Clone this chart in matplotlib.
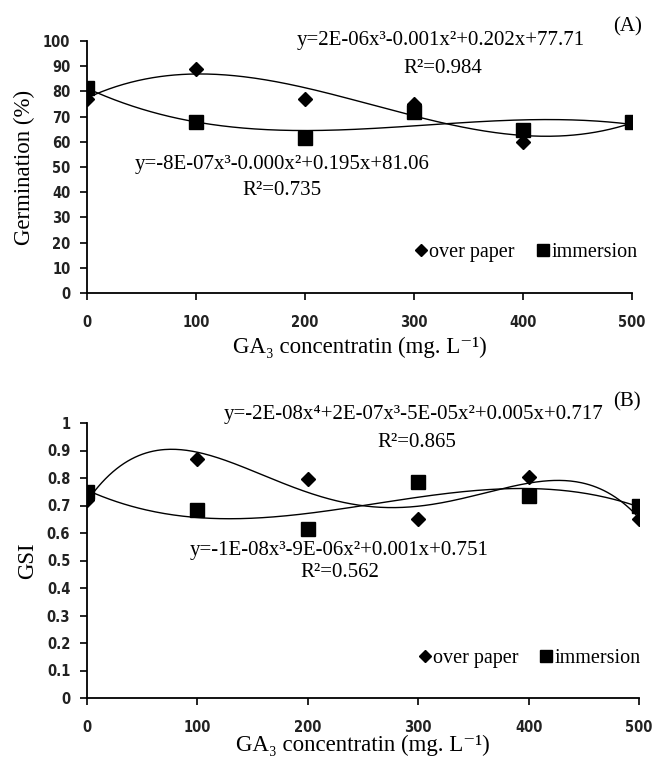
import numpy as np
import matplotlib
matplotlib.use('Agg')
import matplotlib.pyplot as plt
from matplotlib.lines import Line2D

# GA3 concentrations (mg/L)
conc = [0, 100, 200, 300, 400, 500]

# (A) germination %
germ_paper = [77, 89, 77, 75, 60, 68]
germ_immersion = [81.5, 68, 61.5, 72, 64.5, 68]

# (B) germination speed index
gsi_paper = [0.72, 0.87, 0.795, 0.65, 0.805, 0.65]
gsi_immersion = [0.75, 0.685, 0.615, 0.785, 0.735, 0.70]

plt.rcParams['font.family'] = ['Liberation Serif', 'DejaVu Serif']

W, H = 652, 759
fig = plt.figure(figsize=(W / 100, H / 100), dpi=100)


def px_axes(l, r, t, b):
    return fig.add_axes([l / W, 1 - b / H, (r - l) / W, (b - t) / H])


def style(ax, ymax, ystep, yfmt):
    ax.set_xlim(0, 500)
    ax.set_ylim(0, ymax)
    ax.spines['top'].set_visible(False)
    ax.spines['right'].set_visible(False)
    for s in ('left', 'bottom'):
        ax.spines[s].set_linewidth(1.3)
    ax.set_xticks(conc)
    yt = np.arange(0, ymax + ystep / 2, ystep)
    ax.set_yticks(yt)
    ax.set_yticklabels([yfmt(v) for v in yt])
    ax.tick_params(axis='y', length=5, width=1.2, pad=7)
    ax.tick_params(axis='x', length=5, width=1.2, pad=11)
    for lab in ax.get_xticklabels() + ax.get_yticklabels():
        lab.set_family('DejaVu Sans')
        lab.set_fontstretch('condensed')
        lab.set_fontweight('bold')
        lab.set_fontsize(10.5)
        lab.set_color('#222222')


def trend(ax, y, deg):
    xs = np.linspace(0, 500, 300)
    coef = np.polyfit(conc, y, deg)
    ax.plot(xs, np.polyval(coef, xs), color='black', lw=1.0, zorder=2)


def legend(ax, x, y):
    handles = [Line2D([], [], marker='D', color='black', ls='none', markersize=6),
               Line2D([], [], marker='s', color='black', ls='none', markersize=9)]
    ax.legend(handles, ['over paper', 'immersion'], loc='center',
              bbox_to_anchor=(x, y), bbox_transform=ax.transData, ncol=2,
              frameon=False, handletextpad=0.0, columnspacing=1.0,
              handlelength=0.8, prop={'size': 14.5})


txt = dict(fontsize=15, ha='center', va='center', clip_on=False)
xlab = 'GA\u2083 concentratin (mg. L\u207b\u00b9)'

# ---- panel A
axA = px_axes(87, 632, 41, 293)
trend(axA, germ_paper, 3)
trend(axA, germ_immersion, 3)
axA.plot(conc, germ_paper, ls='none', marker='D', color='black', markersize=7, zorder=3)
axA.plot(conc, germ_immersion, ls='none', marker='s', color='black', markersize=10.5, zorder=3)
style(axA, 100, 10, lambda v: '%d' % v)
axA.set_ylabel('Germination (%)', fontsize=16.5, labelpad=6)
axA.set_xlabel(xlab, fontsize=16.5, labelpad=5)
axA.text(325, 100, 'y=2E-06x³-0.001x²+0.202x+77.71', **txt)
axA.text(326, 89, 'R²=0.984', **txt)
axA.text(179, 51, 'y=-8E-07x³-0.000x²+0.195x+81.06', **txt)
axA.text(179, 40.5, 'R²=0.735', **txt)
axA.text(496, 105.5, '(A)', fontsize=15, ha='center', va='center', clip_on=False)
legend(axA, 402, 16)

# ---- panel B
axB = px_axes(87, 639, 423, 698)
trend(axB, gsi_paper, 4)
trend(axB, gsi_immersion, 3)
axB.plot(conc, gsi_paper, ls='none', marker='D', color='black', markersize=7, zorder=3)
axB.plot(conc, gsi_immersion, ls='none', marker='s', color='black', markersize=10.5, zorder=3)
style(axB, 1.0, 0.1, lambda v: '0' if v == 0 else ('1' if v == 1 else ('%.1f' % v)))
axB.set_ylabel('GSI', fontsize=16.5, labelpad=6)
axB.set_xlabel(xlab, fontsize=16.5, labelpad=0)
axB.text(296, 1.03, 'y=-2E-08x\u2074+2E-07x³-5E-05x²+0.005x+0.717', **txt)
axB.text(299, 0.93, 'R²=0.865', **txt)
axB.text(228, 0.535, 'y=-1E-08x³-9E-06x²+0.001x+0.751', **txt)
axB.text(229, 0.455, 'R²=0.562', **txt)
axB.text(489, 1.076, '(B)', fontsize=15, ha='center', va='center', clip_on=False)
legend(axB, 400, 0.145)

fig.savefig('out.png', dpi=100)
